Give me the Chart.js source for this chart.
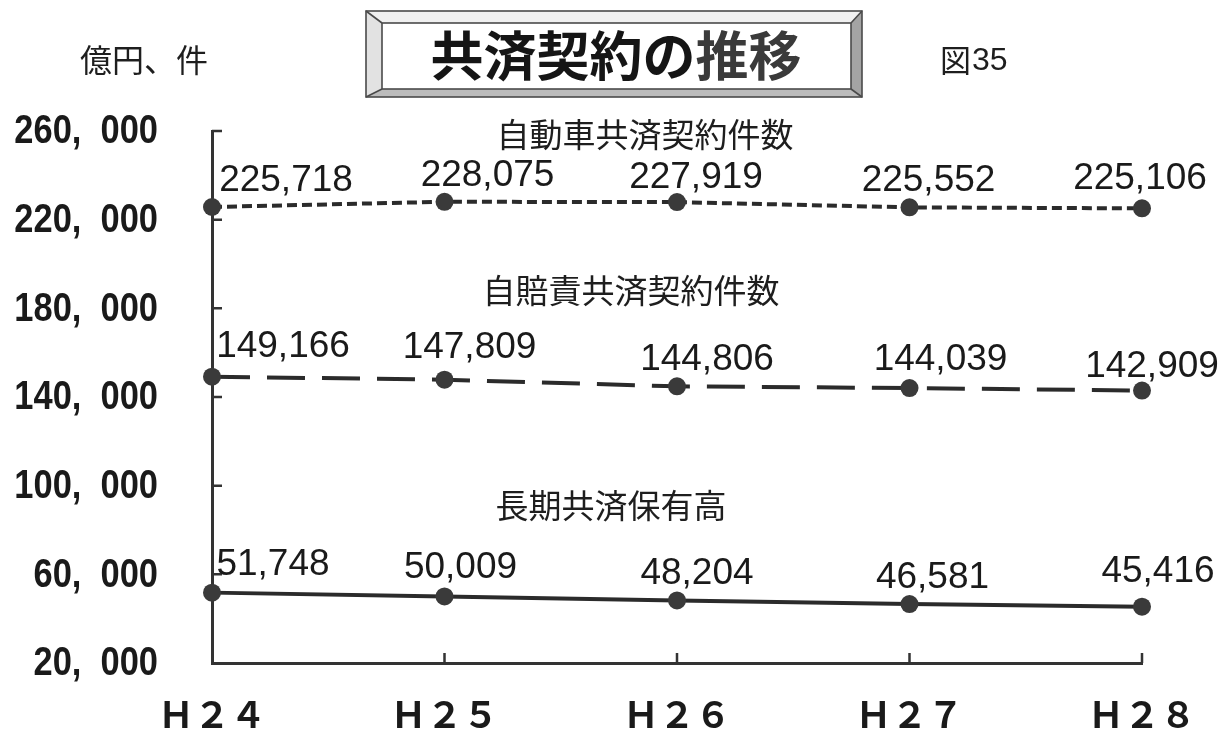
<!DOCTYPE html>
<html>
<head>
<meta charset="utf-8">
<title>共済契約の推移</title>
<script src="https://cdn.jsdelivr.net/npm/chart.js@4.4.1/dist/chart.umd.min.js"></script>
<style>
  html, body { margin: 0; padding: 0; background: #ffffff; }
  #wrap { width: 1223px; height: 730px; position: relative; }
</style>
</head>
<body>
<div id="wrap"><canvas id="chart" width="1223" height="730"></canvas></div>
<script>
// Fiscal years (Heisei)
const years = ['Ｈ２４', 'Ｈ２５', 'Ｈ２６', 'Ｈ２７', 'Ｈ２８'];

// 自動車共済契約件数 (件)
const autoContracts = [225718, 228075, 227919, 225552, 225106];
// 自賠責共済契約件数 (件)
const liabilityContracts = [149166, 147809, 144806, 144039, 142909];
// 長期共済保有高 (億円)
const longTermHoldings = [51748, 50009, 48204, 46581, 45416];

const seriesNames = ['自動車共済契約件数', '自賠責共済契約件数', '長期共済保有高'];

// Y axis range
const yMin = 20000;
const yMax = 260000;
const yStep = 40000;

// ---- styling ----
const INK = '#2b2b2b';
const JP = '"Noto Sans CJK JP", "Noto Sans", sans-serif';
const NUM = '"Liberation Sans", Arial, sans-serif';

// value label placement relative to each point: [dx of label centre, dy of baseline]
const labelShift = [
  [[74, -16], [43, -16], [19, -14], [19, -16], [-2, -19]],
  [[71, -20], [25, -22], [30, -16], [31, -18], [10, -14]],
  [[61, -18], [16, -18], [20, -16], [23, -16], [16, -25]]
];
// series caption centres
const captionPos = [[645, 134], [631, 290], [611, 505]];

function fmt(n) {
  return n.toLocaleString('en-US');
}

// white background + bevelled title plate + header texts
const decorPlugin = {
  id: 'decor',
  beforeDraw(chart) {
    const ctx = chart.ctx;
    ctx.save();
    ctx.fillStyle = '#ffffff';
    ctx.fillRect(0, 0, chart.width, chart.height);

    // bevelled title frame
    const x0 = 366, y0 = 11, x1 = 862, y1 = 97;
    const a0 = 382, b0 = 23, a1 = 851, b1 = 89;
    const poly = (pts, fill) => {
      ctx.beginPath();
      ctx.moveTo(pts[0][0], pts[0][1]);
      for (let i = 1; i < pts.length; i++) ctx.lineTo(pts[i][0], pts[i][1]);
      ctx.closePath();
      ctx.fillStyle = fill;
      ctx.fill();
    };
    poly([[x0, y0], [x1, y0], [a1, b0], [a0, b0]], '#f0f0f0');
    poly([[x0, y0], [a0, b0], [a0, b1], [x0, y1]], '#e2e2e2');
    poly([[x1, y0], [x1, y1], [a1, b1], [a1, b0]], '#a4a4a4');
    poly([[x0, y1], [x1, y1], [a1, b1], [a0, b1]], '#bcbcbc');
    ctx.fillStyle = '#ffffff';
    ctx.fillRect(a0, b0, a1 - a0, b1 - b0);
    ctx.strokeStyle = '#4a4a4a';
    ctx.lineWidth = 1.6;
    ctx.strokeRect(x0, y0, x1 - x0, y1 - y0);
    ctx.strokeRect(a0, b0, a1 - a0, b1 - b0);
    ctx.beginPath();
    ctx.moveTo(x0, y0); ctx.lineTo(a0, b0);
    ctx.moveTo(x1, y0); ctx.lineTo(a1, b0);
    ctx.moveTo(x0, y1); ctx.lineTo(a0, b1);
    ctx.moveTo(x1, y1); ctx.lineTo(a1, b1);
    ctx.stroke();

    // title text
    ctx.font = 'bold 53px ' + JP;
    ctx.textBaseline = 'middle';
    ctx.textAlign = 'left';
    const partA = '共済契約の', partB = '推移';
    const wA = ctx.measureText(partA).width;
    const wB = ctx.measureText(partB).width;
    const start = 616 - (wA + wB) / 2;
    ctx.fillStyle = '#151515';
    ctx.fillText(partA, start, 56);
    ctx.fillStyle = '#3a3a3a';
    ctx.fillText(partB, start + wA, 56);

    // unit and figure number
    ctx.fillStyle = '#1e1e1e';
    ctx.font = '32px ' + JP;
    ctx.textAlign = 'left';
    ctx.fillText('億円、件', 80, 60);
    ctx.font = '31px ' + JP;
    ctx.fillText('図', 940, 60);
    ctx.font = '32px ' + NUM;
    ctx.fillText('35', 972, 61);
    ctx.restore();
  },
  afterDatasetsDraw(chart) {
    const ctx = chart.ctx;
    const xs = chart.scales.x, ys = chart.scales.y;
    const area = chart.chartArea;
    ctx.save();

    // inward tick marks
    ctx.strokeStyle = '#333333';
    ctx.lineWidth = 2.5;
    ctx.beginPath();
    ys.ticks.forEach(t => {
      if (t.value === yMin) return;
      const py = ys.getPixelForValue(t.value);
      ctx.moveTo(area.left, py);
      ctx.lineTo(area.left + 10, py);
    });
    years.forEach((_, i) => {
      if (i === 0) return;
      const px = xs.getPixelForValue(i);
      ctx.moveTo(px, area.bottom);
      ctx.lineTo(px, area.bottom - 10);
    });
    ctx.stroke();

    // y tick labels: condensed bold numerals, right-aligned
    ctx.fillStyle = '#1a1a1a';
    ctx.textBaseline = 'middle';
    ys.ticks.forEach(t => {
      const py = ys.getPixelForValue(t.value);
      const txt = fmt(t.value).replace(',', ',  ');
      ctx.save();
      ctx.font = 'bold 41px ' + NUM;
      ctx.textAlign = 'right';
      ctx.translate(158, py + 1);
      ctx.scale(0.84, 1);
      ctx.fillText(txt, 0, 0);
      ctx.restore();
    });

    // x tick labels
    ctx.font = 'bold 36px ' + JP;
    ctx.textAlign = 'center';
    ctx.textBaseline = 'middle';
    years.forEach((lab, i) => {
      ctx.fillText(lab, xs.getPixelForValue(i), 714);
    });

    // value labels
    ctx.fillStyle = '#1a1a1a';
    ctx.font = '37px ' + NUM;
    ctx.textAlign = 'center';
    ctx.textBaseline = 'alphabetic';
    chart.data.datasets.forEach((ds, di) => {
      const meta = chart.getDatasetMeta(di);
      meta.data.forEach((pt, i) => {
        const s = labelShift[di][i];
        ctx.fillText(fmt(ds.data[i]), pt.x + s[0], pt.y + s[1]);
      });
    });

    // series captions
    ctx.font = '33px ' + JP;
    ctx.textBaseline = 'middle';
    ctx.fillStyle = '#1e1e1e';
    seriesNames.forEach((name, i) => {
      ctx.fillText(name, captionPos[i][0], captionPos[i][1]);
    });
    ctx.restore();
  }
};

const lineBase = {
  borderColor: INK,
  borderWidth: 4,
  pointRadius: 9,
  pointHoverRadius: 9,
  pointBackgroundColor: '#3a3a3a',
  pointBorderColor: '#3a3a3a',
  pointBorderWidth: 0,
  tension: 0,
  fill: false,
  clip: false
};

new Chart(document.getElementById('chart'), {
  type: 'line',
  data: {
    labels: years,
    datasets: [
      Object.assign({}, lineBase, { label: seriesNames[0], data: autoContracts, borderDash: [10, 5] }),
      Object.assign({}, lineBase, { label: seriesNames[1], data: liabilityContracts, borderDash: [38, 17] }),
      Object.assign({}, lineBase, { label: seriesNames[2], data: longTermHoldings })
    ]
  },
  options: {
    responsive: false,
    animation: false,
    events: [],
    layout: { padding: { top: 131, right: 81, bottom: 0, left: 0 } },
    plugins: {
      legend: { display: false },
      tooltip: { enabled: false },
      title: { display: false }
    },
    scales: {
      x: {
        type: 'category',
        offset: false,
        grid: { display: false, drawTicks: false },
        border: { display: true, color: '#333333', width: 3 },
        ticks: { display: false, autoSkip: false },
        afterFit(scale) { scale.height = 67; }
      },
      y: {
        min: yMin,
        max: yMax,
        grid: { display: false, drawTicks: false },
        border: { display: true, color: '#333333', width: 3 },
        ticks: { display: false, stepSize: yStep },
        afterFit(scale) { scale.width = 212; }
      }
    }
  },
  plugins: [decorPlugin]
});
</script>
</body>
</html>
